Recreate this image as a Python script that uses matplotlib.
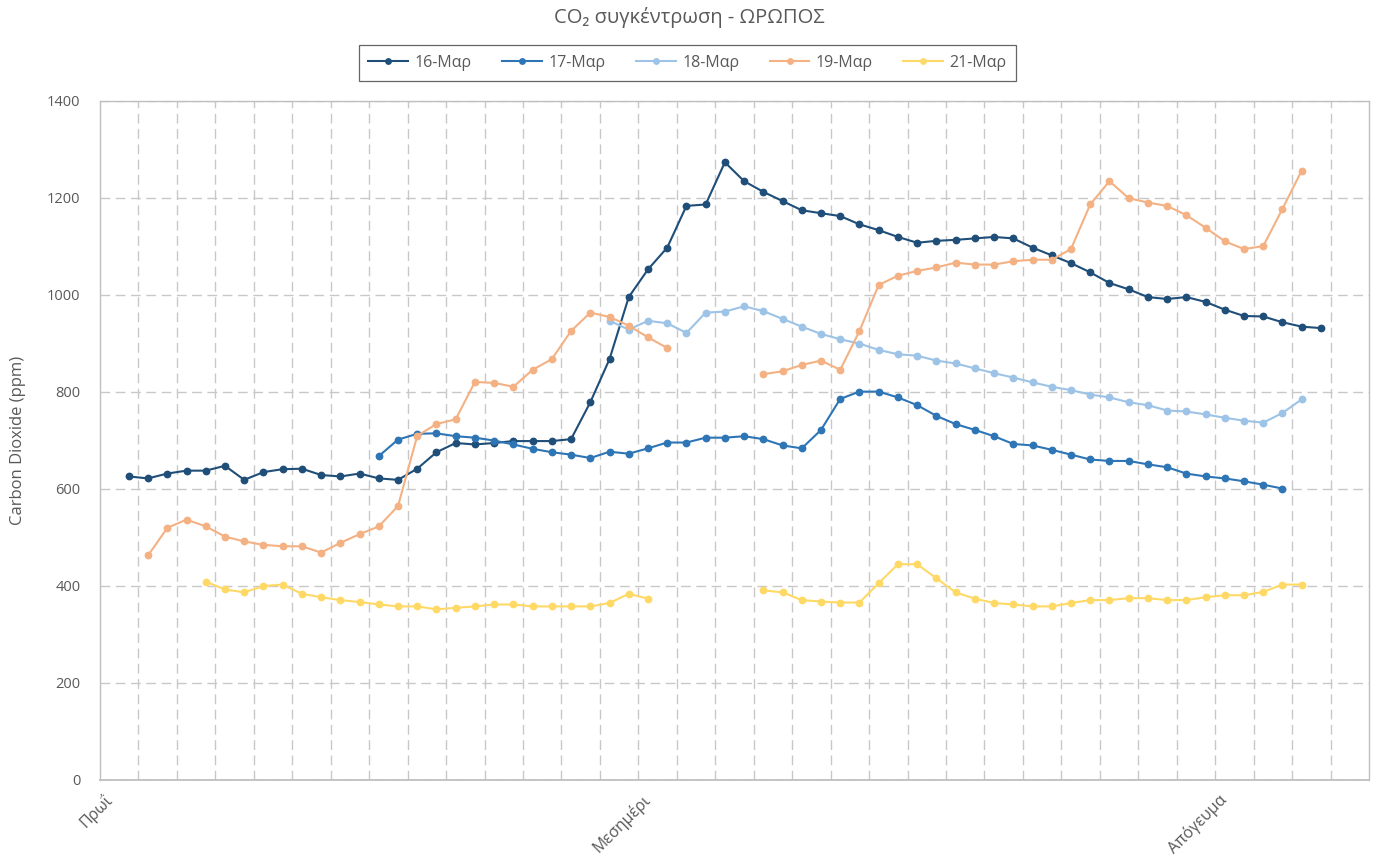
import numpy as np
import matplotlib
matplotlib.use("Agg")
import matplotlib.pyplot as plt

plt.rcParams['font.family'] = ['Open Sans', 'DejaVu Sans']

# ---- data -------------------------------------------------------------
n_categories = 66
label_positions = [0, 28, 58]
label_texts = ['Πρωΐ', 'Μεσημέρι', 'Απόγευμα']

series_names = ['16-Μαρ', '17-Μαρ', '18-Μαρ', '19-Μαρ', '21-Μαρ']
series_colors = ['#1F4E79', '#2E75B6', '#9DC3E6', '#F4B183', '#FFD966']

start_16 = 1
co2_16 = [625, 621, 631, 637, 637, 647, 618, 634, 640, 641, 628, 625, 631, 621, 618,
          641, 675, 694, 691, 694, 698, 698, 698, 702, 778, 867, 995, 1052, 1097, 1183,
          1186, 1273, 1234, 1212, 1193, 1174, 1168, 1162, 1145, 1133, 1119, 1107, 1111,
          1113, 1116, 1119, 1116, 1097, 1081, 1065, 1046, 1024, 1011, 995, 991, 995, 985,
          969, 956, 955, 943, 934, 931]

start_17 = 14
co2_17 = [667, 701, 713, 714, 708, 705, 699, 691, 682, 675, 670, 663, 676, 672, 683,
          695, 695, 705, 705, 708, 702, 689, 683, 721, 785, 800, 800, 788, 772, 750,
          733, 721, 708, 692, 689, 680, 670, 660, 657, 657, 650, 644, 631, 625, 621,
          615, 608, 600]

start_18 = 26
co2_18 = [946, 928, 946, 941, 921, 963, 965, 976, 966, 950, 934, 919, 908, 899, 886,
          877, 874, 864, 858, 848, 838, 829, 819, 810, 803, 794, 788, 778, 772, 761,
          759, 753, 746, 740, 736, 756, 784]

start_19 = 2
co2_19 = [462, 519, 536, 522, 501, 491, 484, 481, 481, 468, 488, 506, 522, 564, 709,
          733, 743, 820, 818, 810, 845, 867, 925, 963, 954, 936, 912, 890,
          None, None, None, None,
          836, 842, 855, 864, 845, 925, 1020, 1039, 1049, 1056, 1066, 1062, 1062, 1069,
          1072, 1072, 1094, 1186, 1234, 1199, 1190, 1183, 1164, 1138, 1110, 1094, 1100,
          1177, 1256]

start_21 = 5
co2_21 = [408, 392, 386, 399, 402, 383, 376, 370, 366, 361, 357, 357, 351, 354, 357,
          361, 361, 357, 357, 357, 357, 364, 383, 373,
          None, None, None, None, None,
          390, 386, 370, 367, 365, 365, 405, 444, 444, 415, 386, 373, 364, 361, 357,
          357, 364, 370, 370, 374, 374, 370, 370, 376, 380, 380, 387, 402, 402]

series_starts = [start_16, start_17, start_18, start_19, start_21]
series_values = [co2_16, co2_17, co2_18, co2_19, co2_21]

# ---- figure -------------------------------------------------------------
W, H = 1376, 865
fig = plt.figure(figsize=(W / 100, H / 100), dpi=100)
ax_left, ax_right, ax_top, ax_bottom = 100, 1369, 100.7, 779.5
ax = fig.add_axes([ax_left / W, 1 - ax_bottom / H,
                   (ax_right - ax_left) / W, (ax_bottom - ax_top) / H])

text_color = '#595959'
grid_color = '#C8C8C8'

for name, color, start, vals in zip(series_names, series_colors, series_starts, series_values):
    y = np.array([np.nan if v is None else v for v in vals], dtype=float)
    x = np.arange(start, start + len(y))
    ax.plot(x, y, color=color, lw=1.5, marker='o', markersize=4.6,
            markerfacecolor=color, markeredgecolor=color, label=name,
            solid_joinstyle='round', zorder=3)

ax.set_xlim(-0.5, n_categories - 0.5)
ax.set_ylim(0, 1400)
ax.set_yticks(np.arange(0, 1401, 200))

# category labels and boundary gridlines every second category
ax.set_xticks(label_positions)
ax.set_xticklabels(label_texts, rotation=45, ha='right', va='center',
                   rotation_mode='anchor', color=text_color, fontsize=11.5)
ax.set_xticks(np.arange(1.5, n_categories - 1, 2), minor=True)

ax.tick_params(axis='x', which='both', length=0, pad=13)
ax.tick_params(axis='y', length=0, pad=14, labelcolor=text_color, labelsize=10.5)

dash = (0, (7, 4))
ax.yaxis.grid(True, linestyle=dash, color=grid_color, lw=1.0)
ax.xaxis.grid(True, which='minor', linestyle=dash, color=grid_color, lw=1.0)
ax.xaxis.grid(False, which='major')
ax.set_axisbelow(True)

for side in ['left', 'right', 'top']:
    ax.spines[side].set_color('#BFBFBF')
    ax.spines[side].set_linewidth(1.0)
ax.spines['bottom'].set_color('#BFBFBF')
ax.spines['bottom'].set_linewidth(1.3)

# title, axis title and legend
fig.text(689 / W, 1 - 18 / H, 'CO₂ συγκέντρωση - ΩΡΩΠΟΣ', ha='center', va='center',
         fontsize=14.5, color=text_color)
fig.text(18 / W, 1 - 440 / H, 'Carbon Dioxide (ppm)', rotation=90, ha='center',
         va='center', fontsize=12, color=text_color)

leg = fig.legend(loc='center', bbox_to_anchor=(687.5 / W, 1 - 63 / H), ncol=5,
                 frameon=True, fancybox=False, fontsize=11.5, handlelength=2.5,
                 handletextpad=0.4, columnspacing=1.9, borderpad=0.6,
                 markerscale=0.85)
leg.get_frame().set_edgecolor('#404040')
leg.get_frame().set_linewidth(0.9)
for t in leg.get_texts():
    t.set_color(text_color)

fig.savefig('out.png', dpi=100)
